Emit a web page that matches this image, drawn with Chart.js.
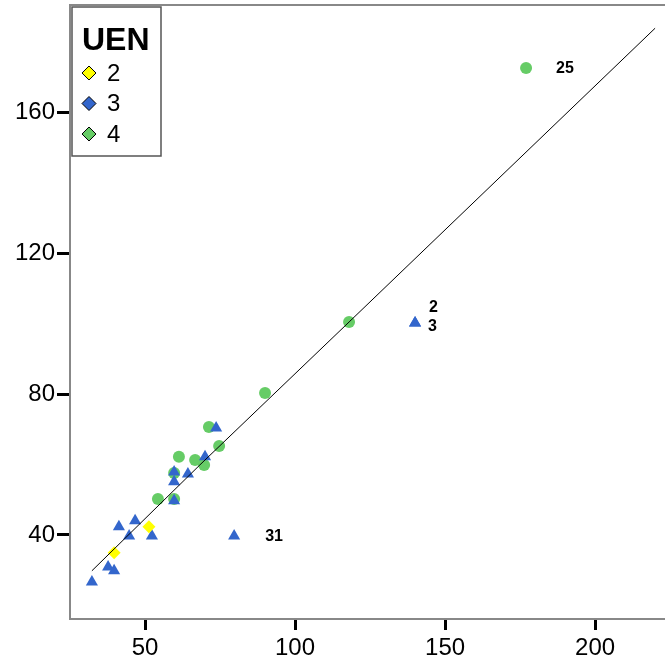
<!DOCTYPE html>
<html>
<head>
<meta charset="utf-8">
<script src="https://cdn.jsdelivr.net/npm/chart.js@4"></script>
<style>
  html, body { margin: 0; padding: 0; background: #fff; }
  #wrap { width: 665px; height: 664px; }
</style>
</head>
<body>
<div id="wrap"><canvas id="chart" width="665" height="664"></canvas></div>
<script>
// UEN groups (legend)
const groupNames = ["2", "3", "4"];

// UEN = 2 (yellow diamonds)
const uen2X = [51.3, 39.7];
const uen2Y = [42.3, 34.9];

// UEN = 3 (blue triangles)
const uen3X = [73.7, 70.0, 59.7, 59.7, 64.3, 59.7, 46.7, 41.3, 44.7, 52.3, 79.7, 37.7, 39.7, 32.3, 140.0, 140.0];
const uen3Y = [70.4, 62.2, 57.9, 55.1, 57.3, 49.7, 44.0, 42.3, 39.7, 39.7, 39.7, 30.9, 29.8, 26.6, 100.2, 100.2];

// UEN = 4 (green circles)
const uen4X = [71.3, 74.7, 61.3, 66.7, 69.7, 59.7, 54.3, 59.7, 118.0, 90.0, 177.0];
const uen4Y = [70.7, 65.3, 62.2, 61.3, 59.9, 57.6, 50.2, 50.2, 100.5, 80.3, 172.7];

// fitted line
const fitX = [32.3, 68.3, 118.0, 220.0];
const fitY = [29.8, 59.9, 100.5, 184.0];

// labelled cases
const caseLabels = ["25", "31", "2", "3"];
const caseX = [177.0, 79.7, 140.0, 140.0];
const caseY = [172.7, 39.7, 100.2, 100.2];

// axis ticks
const xTicks = [50, 100, 150, 200];
const yTicks = [40, 80, 120, 160];

const colors = { "2": "#ffff00", "3": "#3366cc", "4": "#66cc66" };

function toPoints(xs, ys) {
    return xs.map((x, i) => ({ x: x, y: ys[i] }));
}

// pixel offsets for the case labels (style only)
const labelOffsets = [[30, 1], [31, 1], [14, -15], [13, 4]];

const caseLabelPlugin = {
    id: "caseLabels",
    afterDatasetsDraw(chart) {
        const ctx = chart.ctx;
        const xs = chart.scales.x, ys = chart.scales.y;
        ctx.save();
        ctx.font = "bold 16px 'Liberation Sans', Arial, sans-serif";
        ctx.fillStyle = "#000";
        ctx.textAlign = "left";
        ctx.textBaseline = "middle";
        caseLabels.forEach((lab, i) => {
            const px = xs.getPixelForValue(caseX[i]) + labelOffsets[i][0];
            const py = ys.getPixelForValue(caseY[i]) + labelOffsets[i][1];
            ctx.fillText(lab, px, py);
        });
        ctx.restore();
    }
};

// top frame line + legend box
const framePlugin = {
    id: "frameLegend",
    afterDraw(chart) {
        const ctx = chart.ctx;
        const a = chart.chartArea;
        ctx.save();
        ctx.strokeStyle = "#888";
        ctx.lineWidth = 2;
        ctx.beginPath();
        ctx.moveTo(a.left, a.top);
        ctx.lineTo(a.right, a.top);
        ctx.stroke();

        // legend
        ctx.fillStyle = "#fff";
        ctx.fillRect(72, 7, 89, 149);
        ctx.strokeStyle = "#555";
        ctx.lineWidth = 1.5;
        ctx.strokeRect(72, 7, 89, 149);

        ctx.fillStyle = "#000";
        ctx.font = "bold 32px 'Liberation Sans', Arial, sans-serif";
        ctx.textAlign = "left";
        ctx.textBaseline = "alphabetic";
        ctx.fillText("UEN", 82, 50);

        ctx.font = "24px 'Liberation Sans', Arial, sans-serif";
        ctx.textBaseline = "middle";
        groupNames.forEach((g, i) => {
            const cy = 73 + i * 30.5;
            const cx = 89;
            const r = 7;
            ctx.beginPath();
            ctx.moveTo(cx, cy - r);
            ctx.lineTo(cx + r, cy);
            ctx.lineTo(cx, cy + r);
            ctx.lineTo(cx - r, cy);
            ctx.closePath();
            ctx.fillStyle = colors[g];
            ctx.fill();
            ctx.strokeStyle = "#000";
            ctx.lineWidth = 1;
            ctx.stroke();
            ctx.fillStyle = "#000";
            ctx.fillText(g, 107, cy + 1);
        });
        ctx.restore();
    }
};

const tickFont = { family: "'Liberation Sans', Arial, sans-serif", size: 24 };

function noPad(s) {
    s.paddingTop = 0;
    s.paddingBottom = 0;
    s.paddingLeft = 0;
    s.paddingRight = 0;
}

new Chart(document.getElementById("chart"), {
    type: "scatter",
    data: {
        datasets: [
            {
                label: "fit",
                type: "line",
                data: toPoints(fitX, fitY),
                borderColor: "#000",
                borderWidth: 1,
                pointRadius: 0,
                fill: false,
                tension: 0
            },
            {
                label: "2",
                data: toPoints(uen2X, uen2Y),
                pointStyle: "rectRot",
                pointRadius: 6.5,
                backgroundColor: colors["2"],
                borderWidth: 0
            },
            {
                label: "3",
                data: toPoints(uen3X, uen3Y),
                pointStyle: "triangle",
                pointRadius: 7,
                backgroundColor: colors["3"],
                borderWidth: 0
            },
            {
                label: "4",
                data: toPoints(uen4X, uen4Y),
                pointStyle: "circle",
                pointRadius: 6,
                backgroundColor: colors["4"],
                borderWidth: 0
            }
        ]
    },
    options: {
        responsive: false,
        animation: false,
        layout: { autoPadding: false, padding: { top: 5, right: 0, left: 0, bottom: 0 } },
        plugins: {
            legend: { display: false },
            tooltip: { enabled: false }
        },
        scales: {
            x: {
                type: "linear",
                min: 25,
                max: 223.3,
                afterBuildTicks: s => { s.ticks = xTicks.map(v => ({ value: v })); },
                afterFit: s => { s.height = 45; noPad(s); },
                grid: { drawOnChartArea: false, drawTicks: true, tickLength: 11, tickColor: "#000", tickWidth: 3 },
                border: { display: true, color: "#888", width: 2 },
                ticks: { color: "#000", font: tickFont, padding: 4, maxRotation: 0 }
            },
            y: {
                type: "linear",
                min: 16.1,
                max: 190.6,
                afterBuildTicks: s => { s.ticks = yTicks.map(v => ({ value: v })); },
                afterFit: s => { s.width = 70; noPad(s); },
                grid: { drawOnChartArea: false, drawTicks: true, tickLength: 13, tickColor: "#000", tickWidth: 3 },
                border: { display: true, color: "#888", width: 2 },
                ticks: { color: "#000", font: tickFont, padding: 2 }
            }
        }
    },
    plugins: [caseLabelPlugin, framePlugin]
});
</script>
</body>
</html>
